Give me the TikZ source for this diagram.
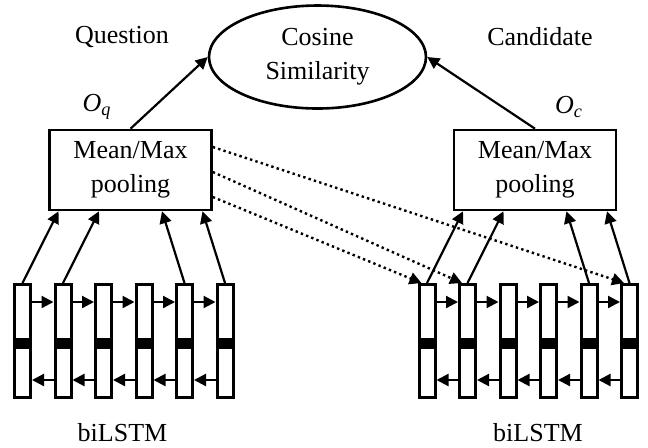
\documentclass[tikz,border=0pt]{standalone}
\usepackage{fontspec}
\setmainfont{Liberation Serif}
\usetikzlibrary{shapes.geometric,arrows.meta,positioning}

\begin{document}
\begin{tikzpicture}[x=0.5pt,y=-0.5pt,font=\fontsize{13}{17}\selectfont,
  cell/.style={draw,line width=1.5pt,minimum width=8pt,minimum height=56.5pt,inner sep=0pt,
    path picture={\fill ([yshift=1.75pt]path picture bounding box.west)
      rectangle ([yshift=-4pt]path picture bounding box.east);}},
  pool/.style={draw,line width=1.3pt,minimum width=81pt,minimum height=40pt,align=center},
  arr/.style={line width=1.1pt,-{Triangle[length=6pt,width=6pt]}},
  link/.style={line width=1.2pt,dash pattern=on 1.2pt off 1.6pt,-{Triangle[length=6pt,width=6pt]}}]
  \useasboundingbox (0,0) rectangle (648,447);

  % Similarite cosinus
  \node[draw,ellipse,line width=1.3pt,minimum width=108.5pt,minimum height=51.5pt,
    inner sep=0pt,align=center] (cos) at (317.5,57) {Cosine\\Similarity};
  \node (quest) at (122,37) {Question};
  \node (cand) at (540,37) {Candidate};
  \node (oq) at (97,107) {\textit{O}\textsubscript{\textit{q}}};
  \node (oc) at (569,107) {\textit{O}\textsubscript{\textit{c}}};

  % Pooling
  \node[pool] (qpool) at (130.5,170) {Mean/Max\\pooling};
  \node[pool] (cpool) at (535,170) {Mean/Max\\pooling};
  \draw[arr] (qpool.north) -- (cos.west);
  \draw[arr] (cpool.north) -- (cos.east);

  % biLSTM
  \foreach \i in {1,...,6}{
    \node[cell] (q\i) at ({22.5+40.5*(\i-1)},341) {};
    \node[cell] (c\i) at ({427+40.5*(\i-1)},341) {};
  }
  \foreach \i [count=\j from 2] in {1,...,5}{
    \draw[arr] ([yshift=19.5pt]q\i.east) -- ([yshift=19.5pt]q\j.west);
    \draw[arr] ([yshift=-19.5pt]q\j.west) -- ([yshift=-19.5pt]q\i.east);
    \draw[arr] ([yshift=19.5pt]c\i.east) -- ([yshift=19.5pt]c\j.west);
    \draw[arr] ([yshift=-19.5pt]c\j.west) -- ([yshift=-19.5pt]c\i.east);
  }
  \node (qlstm) at (122.5,433) {biLSTM};
  \node (clstm) at (538,433) {biLSTM};

  % Vers le pooling
  \foreach \i/\dx in {1/-36,2/-15.75,5/15.75,6/36}{
    \draw[arr] (q\i.north) -- ([xshift=\dx pt]qpool.south);
    \draw[arr] (c\i.north) -- ([xshift=\dx pt]cpool.south);
  }

  % Attention
  \draw[link] ([yshift=11.5pt]qpool.east) -- ([xshift=-2.75pt]c6.north);
  \draw[link] ([yshift=-1pt]qpool.east) -- ([xshift=-2.75pt]c2.north);
  \draw[link] ([yshift=-13.5pt]qpool.east) -- ([xshift=-2.75pt]c1.north);
\end{tikzpicture}
\end{document}
